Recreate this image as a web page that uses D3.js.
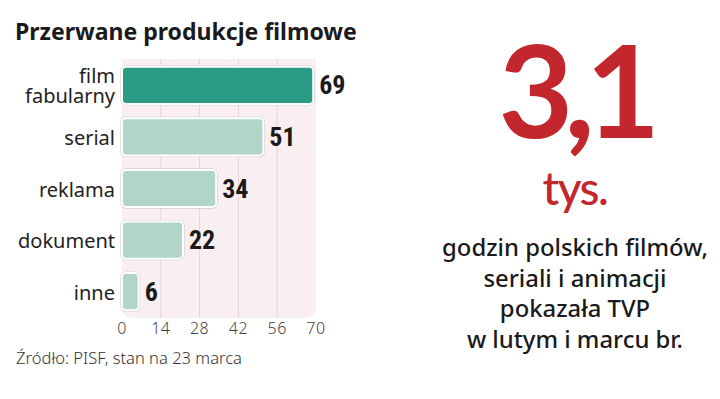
<!DOCTYPE html>
<html><head><meta charset="utf-8">
<script src="https://cdn.jsdelivr.net/npm/d3@7"></script>
<style>
html,body{margin:0;padding:0;background:#fff;}
svg{display:block;}
</style></head>
<body>
<svg id="chart" width="720" height="399"></svg>
<script>
const title = "Przerwane produkcje filmowe";
const categories = ["film fabularny", "serial", "reklama", "dokument", "inne"];
const values = [69, 51, 34, 22, 6];
const ticks = [0, 14, 28, 42, 56, 70];
const source = "Źródło: PISF, stan na 23 marca";
const bigNumber = "3,1";
const bigUnit = "tys.";
const bodyLines = ["godzin polskich filmów,", "seriali i animacji", "pokazała TVP", "w lutym i marcu br."];

const svg = d3.select("#chart");
const x = d3.scaleLinear().domain([0, 70]).range([122, 316]);
const y = d3.scaleBand().domain(categories).range([59, 318]).paddingInner(0.28).paddingOuter(0.15);

function fitWidth(sel, target) {
  const w = sel.node().getComputedTextLength();
  const fs = parseFloat(sel.attr("font-size"));
  sel.attr("font-size", fs * target / w);
}

// title
const t = svg.append("text").attr("x", 15).attr("y", 40)
  .attr("font-family", "'Noto Sans', sans-serif").attr("font-weight", 700)
  .attr("font-size", 21).attr("fill", "#1a1a1a").text(title);
fitWidth(t, 342);

// panel
const px0 = x(0), px1 = x(70), py0 = 59, py1 = 318, r = 11;
svg.append("path")
  .attr("d", `M${px0},${py0}H${px1}V${py1 - r}Q${px1},${py1} ${px1 - r},${py1}H${px0 + r}Q${px0},${py1} ${px0},${py1 - r}Z`)
  .attr("fill", "#f9eff1");

// grid
svg.append("g").selectAll("line").data(ticks.slice(1, -1)).join("line")
  .attr("x1", d => x(d)).attr("x2", d => x(d))
  .attr("y1", py0).attr("y2", py1)
  .attr("stroke", "#e3d3d8").attr("stroke-width", 1);

// bars shadow + bars
const bars = svg.append("g");
bars.selectAll("rect.sh").data(values).join("rect")
  .attr("class", "sh")
  .attr("x", x(0) - 1).attr("y", (d, i) => y(categories[i]) - 1)
  .attr("width", d => x(d) - x(0) + 2).attr("height", y.bandwidth() + 2)
  .attr("rx", 5).attr("fill", "none").attr("stroke", "#cfcfcf").attr("stroke-width", 1.2);
bars.selectAll("rect.b").data(values).join("rect")
  .attr("class", "b")
  .attr("x", x(0)).attr("y", (d, i) => y(categories[i]))
  .attr("width", d => x(d) - x(0)).attr("height", y.bandwidth())
  .attr("rx", 4)
  .attr("fill", (d, i) => i === 0 ? "#2a9a85" : "#b1d6c9")
  .attr("stroke", "#fff").attr("stroke-width", 2);

// value labels
svg.append("g").selectAll("text").data(values).join("text")
  .attr("x", d => x(d) + 6)
  .attr("y", (d, i) => y(categories[i]) + y.bandwidth() / 2 + 9)
  .attr("font-family", "'Roboto Condensed', 'Liberation Sans Narrow', Roboto, sans-serif")
  .attr("font-weight", 700).attr("font-size", 26).attr("fill", "#1a1a1a")
  .text(d => d);

// category labels
const cl = svg.append("g").selectAll("text").data(categories).join("text")
  .attr("text-anchor", "end")
  .attr("font-family", "'Noto Sans', sans-serif").attr("font-size", 20).attr("fill", "#222")
  .attr("y", d => y(d) + y.bandwidth() / 2 + 8);
cl.each(function(d) {
  const parts = d.split(" ");
  const el = d3.select(this);
  parts.forEach((p, j) => {
    el.append("tspan").attr("x", 115)
      .attr("dy", j === 0 ? -(parts.length - 1) * 10 : 20)
      .text(p);
  });
});

// tick labels
svg.append("g").selectAll("text").data(ticks).join("text")
  .attr("x", d => x(d)).attr("y", 334).attr("text-anchor", "middle")
  .attr("font-family", "'Noto Sans', sans-serif").attr("font-weight", 300)
  .attr("font-size", 16).attr("letter-spacing", 0.5).attr("fill", "#444").text(d => d);

// source
const s = svg.append("text").attr("x", 16).attr("y", 364)
  .attr("font-family", "'Noto Sans', sans-serif").attr("font-weight", 300)
  .attr("font-size", 15).attr("fill", "#333").text(source);
fitWidth(s, 226);

// big number
const cx = 575;
const bn = svg.append("text").attr("x", cx).attr("y", 138).attr("text-anchor", "middle")
  .attr("font-family", "Lato, sans-serif").attr("font-weight", 700)
  .attr("font-size", 129).attr("fill", "#c1272d").text(bigNumber);
{
  const w = bn.node().getComputedTextLength();
  bn.attr("letter-spacing", (153 - w) / bigNumber.length);
}
svg.append("text").attr("x", cx).attr("y", 205).attr("text-anchor", "middle")
  .attr("font-family", "Lato, sans-serif").attr("font-weight", 500)
  .attr("font-size", 46).attr("fill", "#c1272d").attr("letter-spacing", -1.5).text(bigUnit);

// body lines
const bl = svg.append("g").selectAll("text").data(bodyLines).join("text")
  .attr("x", cx).attr("y", (d, i) => 256 + i * 30.7).attr("text-anchor", "middle")
  .attr("font-family", "'Noto Sans', sans-serif").attr("font-weight", 500)
  .attr("font-size", 24).attr("fill", "#1a1a1a").text(d => d);
{
  const first = d3.select(bl.nodes()[0]);
  const w = first.node().getComputedTextLength();
  bl.attr("font-size", 24 * 266 / w);
}
</script>
</body></html>
